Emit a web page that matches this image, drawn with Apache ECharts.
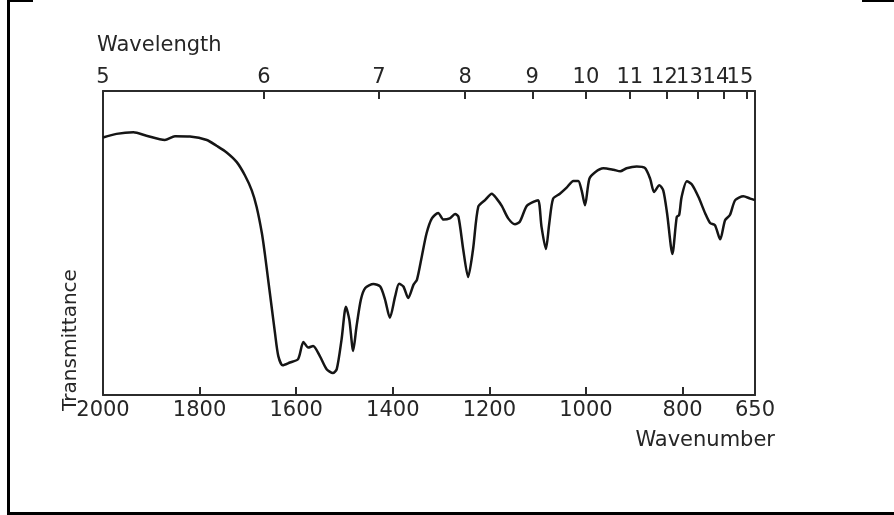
<!DOCTYPE html>
<html><head><meta charset="utf-8">
<script src="https://cdn.jsdelivr.net/npm/echarts@6/dist/echarts.min.js"></script>
<style>
html,body{margin:0;padding:0;background:#fff;}
#c{width:894px;height:515px;position:absolute;left:0;top:0;}
.f{position:absolute;background:#000;pointer-events:none;}
</style></head><body>
<div id="c"></div>
<div class="f" style="left:7px;top:0;width:3px;height:515px"></div>
<div class="f" style="left:7px;top:0;width:26px;height:2px"></div>
<div class="f" style="left:862px;top:0;width:32px;height:2px"></div>
<div class="f" style="left:7px;top:512px;width:887px;height:3px"></div>
<script>
// Wavenumber (cm^-1) of traced points
const wavenumber = [2000,1972,1937,1910,1872,1851,1820,1785,1765,1744,1723,1706,1692,1682,1671,1665,1658,1651,1644,1637,1628,1613,1596,1585,1575,1565,1551,1537,1524,1516,1506,1497,1490,1482,1475,1466,1457,1440,1426,1416,1406,1395,1387,1378,1368,1357,1350,1340,1330,1319,1306,1295,1282,1271,1264,1254,1244,1234,1223,1209,1195,1185,1174,1161,1147,1137,1123,1109,1099,1092,1083,1076,1068,1054,1040,1026,1016,1009,1002,993,981,964,943,929,916,895,878,867,859,848,840,832,821,812,807,802,791,781,767,753,743,733,722,712,702,691,674,660,650];
// Transmittance (relative %)
const transmittance = [84.7,85.9,86.4,85.3,83.9,85.1,85.0,83.9,82.0,79.8,76.6,72.2,67.3,61.9,53.2,46.6,37.9,29.2,20.5,12.8,9.8,10.7,11.8,17.4,15.6,16.1,12.8,8.5,7.2,8.5,18.3,29.0,24.8,14.5,22.6,31.4,35.2,36.5,35.7,31.4,25.4,32.5,36.6,35.7,31.9,36.3,37.9,45.5,53.2,58.1,59.9,57.7,58.1,59.5,58.6,47.7,38.8,47.7,61.9,64.1,66.2,64.6,62.1,58.1,56.2,57.0,62.1,63.5,64.1,55.3,48.0,56.4,64.6,66.2,68.2,70.4,70.4,67.3,62.4,71.1,73.3,74.6,74.1,73.6,74.6,75.2,74.7,71.1,66.8,69.0,67.3,59.7,46.4,58.6,59.2,65.1,70.3,69.3,65.1,59.7,56.6,55.9,51.2,57.5,59.2,64.1,65.4,64.6,64.1];
// Bottom axis tick labels (wavenumber)
const wavenumberTicks = [2000,1800,1600,1400,1200,1000,800,650];
// Top axis tick labels (wavelength, micrometres)
const wavelengthTicks = [5,6,7,8,9,10,11,12,13,14,15];

const FONT = 'DejaVu Sans';
const TXT = '#262626';
const labelStyle = {fontFamily: FONT, fontSize: 21, color: TXT};
const AX = {color: '#2b2b2b', width: 2};
// crowded top labels nudged left (px); alternate ones drawn on a second label layer so none is auto-hidden
const nudge = {12: 2, 13: 8, 14: 8, 15: 7};
const altLayer = [13, 15];
const rich = {n: Object.assign({}, labelStyle)};
Object.keys(nudge).forEach(k => { rich['p' + k] = Object.assign({}, labelStyle, {padding: [0, 2 * nudge[k], 0, 0]}); });
const toWn = l => 10000 / l;
const topTickVals = wavelengthTicks.map(toWn);
const topLabelsA = wavelengthTicks.filter(l => altLayer.indexOf(l) < 0).map(toWn);
const topLabelsB = wavelengthTicks.filter(l => altLayer.indexOf(l) >= 0).map(toWn);
const topFormatter = v => { const l = Math.round(10000 / v); return nudge[l] ? '{p' + l + '|' + l + '}' : '{n|' + l + '}'; };

const chart = echarts.init(document.getElementById('c'), null, {renderer: 'canvas'});
chart.setOption({
  animation: false,
  backgroundColor: '#fff',
  grid: {left: 103, right: 139, top: 91, bottom: 120, containLabel: false},
  xAxis: [
    {
      type: 'value', position: 'bottom', min: 650, max: 2000, inverse: true,
      axisLine: {show: true, onZero: false, lineStyle: AX},
      axisTick: {show: true, inside: true, length: 8, customValues: wavenumberTicks, lineStyle: AX},
      axisLabel: Object.assign({customValues: wavenumberTicks, margin: 5, showMinLabel: true, showMaxLabel: true, hideOverlap: false,
        formatter: v => String(v)}, labelStyle),
      splitLine: {show: false},
      name: 'Wavenumber', nameLocation: 'start', nameGap: 20, nameMoveOverlap: false,
      nameTextStyle: Object.assign({}, labelStyle, {align: 'right', verticalAlign: 'top', padding: [35, 0, 0, 0]})
    },
    {
      type: 'value', position: 'top', min: 650, max: 2000, inverse: true,
      axisLine: {show: true, onZero: false, lineStyle: AX},
      axisTick: {show: true, inside: true, length: 8, customValues: topTickVals, lineStyle: AX},
      axisLabel: Object.assign({customValues: topLabelsA, margin: 3, rich: rich, showMinLabel: true, showMaxLabel: true, hideOverlap: false,
        formatter: topFormatter}, labelStyle),
      splitLine: {show: false},
      name: 'Wavelength', nameLocation: 'end', nameGap: 6, nameMoveOverlap: false,
      nameTextStyle: Object.assign({}, labelStyle, {align: 'left', verticalAlign: 'bottom', padding: [0, 0, 35, 0]})
    },
    {
      type: 'value', position: 'top', min: 650, max: 2000, inverse: true,
      axisLine: {show: false, onZero: false},
      axisTick: {show: false},
      axisLabel: Object.assign({customValues: topLabelsB, margin: 3, rich: rich, showMinLabel: true, showMaxLabel: true, hideOverlap: false,
        formatter: topFormatter}, labelStyle),
      splitLine: {show: false}
    }
  ],
  yAxis: [
    {
      type: 'value', position: 'left', min: 0, max: 100,
      axisLine: {show: true, onZero: false, lineStyle: AX},
      axisTick: {show: false}, axisLabel: {show: false}, splitLine: {show: false},
      name: 'Transmittance', nameLocation: 'middle', nameRotate: 90, nameGap: 32, nameMoveOverlap: false,
      nameTextStyle: Object.assign({}, labelStyle, {fontSize: 20, align: 'center', verticalAlign: 'middle', padding: [0, 194, 0, 0]})
    },
    {
      type: 'value', position: 'right', min: 0, max: 100,
      axisLine: {show: true, onZero: false, lineStyle: AX},
      axisTick: {show: false}, axisLabel: {show: false}, splitLine: {show: false}
    }
  ],
  series: [{
    type: 'line', xAxisIndex: 0, yAxisIndex: 0,
    data: wavenumber.map((w, i) => [w, transmittance[i]]),
    showSymbol: false, smooth: 0.25,
    lineStyle: {color: '#151515', width: 2.5}
  }]
});
</script>
</body></html>
